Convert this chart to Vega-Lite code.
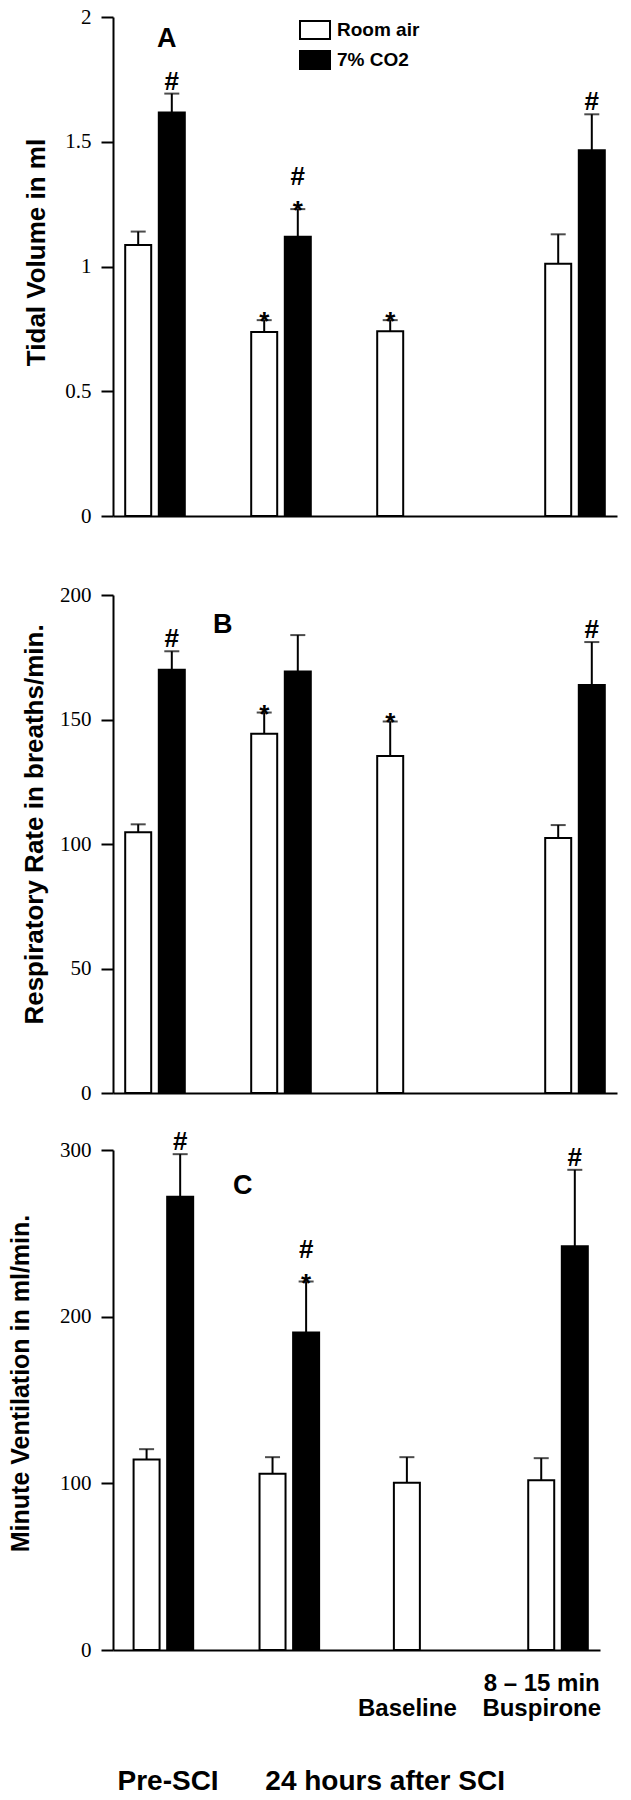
{
  "$schema": "https://vega.github.io/schema/vega-lite/v6.json",
  "padding": {"left": 8, "top": 6, "right": 5, "bottom": 0},
  "background": "white",
  "spacing": 26,
  "datasets": {
    "resp": [
      {"panel": "A", "slot": "Pre-SCI|Room air", "condition": "Room air", "mean": 1.086, "upper": 1.14, "star": "", "hash": "", "hashAbove": ""},
      {"panel": "A", "slot": "Pre-SCI|7% CO2", "condition": "7% CO2", "mean": 1.617, "upper": 1.693, "star": "", "hash": "#", "hashAbove": ""},
      {"panel": "A", "slot": "24 h|Room air", "condition": "Room air", "mean": 0.737, "upper": 0.785, "star": "*", "hash": "", "hashAbove": ""},
      {"panel": "A", "slot": "24 h|7% CO2", "condition": "7% CO2", "mean": 1.119, "upper": 1.23, "star": "*", "hash": "", "hashAbove": "#"},
      {"panel": "A", "slot": "Baseline|Room air", "condition": "Room air", "mean": 0.74, "upper": 0.785, "star": "*", "hash": "", "hashAbove": ""},
      {"panel": "A", "slot": "Buspirone|Room air", "condition": "Room air", "mean": 1.011, "upper": 1.129, "star": "", "hash": "", "hashAbove": ""},
      {"panel": "A", "slot": "Buspirone|7% CO2", "condition": "7% CO2", "mean": 1.466, "upper": 1.61, "star": "", "hash": "#", "hashAbove": ""},
      {"panel": "B", "slot": "Pre-SCI|Room air", "condition": "Room air", "mean": 104.7, "upper": 107.9, "star": "", "hash": "", "hashAbove": ""},
      {"panel": "B", "slot": "Pre-SCI|7% CO2", "condition": "7% CO2", "mean": 170, "upper": 177.4, "star": "", "hash": "#", "hashAbove": ""},
      {"panel": "B", "slot": "24 h|Room air", "condition": "Room air", "mean": 144.3, "upper": 152.8, "star": "*", "hash": "", "hashAbove": ""},
      {"panel": "B", "slot": "24 h|7% CO2", "condition": "7% CO2", "mean": 169.3, "upper": 183.9, "star": "", "hash": "", "hashAbove": ""},
      {"panel": "B", "slot": "Baseline|Room air", "condition": "Room air", "mean": 135.3, "upper": 149.2, "star": "*", "hash": "", "hashAbove": ""},
      {"panel": "B", "slot": "Buspirone|Room air", "condition": "Room air", "mean": 102.4, "upper": 107.6, "star": "", "hash": "", "hashAbove": ""},
      {"panel": "B", "slot": "Buspirone|7% CO2", "condition": "7% CO2", "mean": 163.9, "upper": 181.1, "star": "", "hash": "#", "hashAbove": ""},
      {"panel": "C", "slot": "Pre-SCI|Room air", "condition": "Room air", "mean": 114.3, "upper": 120.5, "star": "", "hash": "", "hashAbove": ""},
      {"panel": "C", "slot": "Pre-SCI|7% CO2", "condition": "7% CO2", "mean": 272, "upper": 297.5, "star": "", "hash": "#", "hashAbove": ""},
      {"panel": "C", "slot": "24 h|Room air", "condition": "Room air", "mean": 105.7, "upper": 115.7, "star": "", "hash": "", "hashAbove": ""},
      {"panel": "C", "slot": "24 h|7% CO2", "condition": "7% CO2", "mean": 190.5, "upper": 221.1, "star": "*", "hash": "", "hashAbove": "#"},
      {"panel": "C", "slot": "Baseline|Room air", "condition": "Room air", "mean": 100.3, "upper": 115.7, "star": "", "hash": "", "hashAbove": ""},
      {"panel": "C", "slot": "Buspirone|Room air", "condition": "Room air", "mean": 101.9, "upper": 115.1, "star": "", "hash": "", "hashAbove": ""},
      {"panel": "C", "slot": "Buspirone|7% CO2", "condition": "7% CO2", "mean": 242.2, "upper": 288.1, "star": "", "hash": "#", "hashAbove": ""}
    ]
  },
  "data": {"name": "resp"},
  "resolve": {"scale": {"x": "independent", "y": "independent", "fill": "independent"}, "legend": {"fill": "independent"}},
  "vconcat": [
    {
      "width": 504, "height": 499,
      "title": {"text": "A", "anchor": "start", "frame": "group", "orient": "top", "baseline": "alphabetic", "offset": -68, "dx": 44, "fontSize": 27, "font": "Liberation Sans", "fontWeight": "bold", "color": "black"},
      "transform": [{"filter": "datum.panel == 'A'"}],
      "encoding": {
        "x": {"field": "slot", "type": "nominal",
          "scale": {"type": "point", "padding": 0, "domain": ["_0","_1","_2","Pre-SCI|Room air","_4","_5","_6","Pre-SCI|7% CO2","_8","_9","_10","_11","_12","_13","_14","_15","_16","_17","24 h|Room air","_19","_20","_21","24 h|7% CO2","_23","_24","_25","_26","_27","_28","_29","_30","_31","_32","Baseline|Room air","_34","_35","_36","_37","_38","_39","_40","_41","_42","_43","_44","_45","_46","_47","_48","_49","_50","_51","_52","Buspirone|Room air","_54","_55","_56","Buspirone|7% CO2","_58","_59","_60"]},
          "axis": {"labels": false, "ticks": false, "title": null, "minExtent": 42}}
      },
      "layer": [
        {"mark": {"type": "bar", "width": 26, "stroke": "black", "strokeWidth": 2},
         "encoding": {
           "y": {"field": "mean", "type": "quantitative", "title": "Tidal Volume in ml", "scale": {"domain": [0, 2]},
                 "axis": {"values": [0, 0.5, 1, 1.5, 2], "format": "~g", "titlePadding": 15, "titleY": 235}},
           "fill": {"field": "condition", "type": "nominal", "scale": {"domain": ["Room air", "7% CO2"], "range": ["white", "black"]},
                    "legend": {"orient": "none", "legendX": 186, "legendY": -3, "title": null, "symbolType": "M-1,-0.6H1V0.6H-1Z", "symbolSize": 900, "symbolStrokeColor": "black", "symbolStrokeWidth": 2, "labelFont": "Liberation Sans", "labelFontWeight": "bold", "labelFontSize": 19, "labelColor": "black", "labelOffset": 6, "rowPadding": 1, "padding": 0, "labelExpr": "datum.label == '7% CO2' ? '\u00a07% CO2' : datum.label"}}
         }},
        {"mark": {"type": "rule", "strokeWidth": 2, "color": "black"},
         "encoding": {"y": {"field": "mean", "type": "quantitative", "title": "Tidal Volume in ml", "scale": {"domain": [0, 2]}}, "y2": {"field": "upper"}}},
        {"mark": {"type": "tick", "orient": "horizontal", "size": 15, "thickness": 2, "color": "black"},
         "encoding": {"y": {"field": "upper", "type": "quantitative", "title": "Tidal Volume in ml", "scale": {"domain": [0, 2]}}}},
        {"transform": [{"filter": "datum.star != ''"}],
         "mark": {"type": "text", "font": "Liberation Sans", "fontWeight": "bold", "fontSize": 26, "baseline": "alphabetic", "dy": 10, "color": "black"},
         "encoding": {"y": {"field": "upper", "type": "quantitative", "title": "Tidal Volume in ml", "scale": {"domain": [0, 2]}}, "text": {"field": "star"}}},
        {"transform": [{"filter": "datum.hash != ''"}],
         "mark": {"type": "text", "font": "Liberation Sans", "fontWeight": "bold", "fontSize": 26, "baseline": "alphabetic", "dy": -4, "color": "black"},
         "encoding": {"y": {"field": "upper", "type": "quantitative", "title": "Tidal Volume in ml", "scale": {"domain": [0, 2]}}, "text": {"field": "hash"}}},
        {"transform": [{"filter": "datum.hashAbove != ''"}],
         "mark": {"type": "text", "font": "Liberation Sans", "fontWeight": "bold", "fontSize": 26, "baseline": "alphabetic", "dy": -24, "color": "black"},
         "encoding": {"y": {"field": "upper", "type": "quantitative", "title": "Tidal Volume in ml", "scale": {"domain": [0, 2]}}, "text": {"field": "hashAbove"}}}
      ]
    },
    {
      "width": 504, "height": 498,
      "title": {"text": "B", "anchor": "start", "frame": "group", "orient": "top", "baseline": "alphabetic", "offset": -76, "dx": 100, "fontSize": 27, "font": "Liberation Sans", "fontWeight": "bold", "color": "black"},
      "transform": [{"filter": "datum.panel == 'B'"}],
      "encoding": {
        "x": {"field": "slot", "type": "nominal",
          "scale": {"type": "point", "padding": 0, "domain": ["_0","_1","_2","Pre-SCI|Room air","_4","_5","_6","Pre-SCI|7% CO2","_8","_9","_10","_11","_12","_13","_14","_15","_16","_17","24 h|Room air","_19","_20","_21","24 h|7% CO2","_23","_24","_25","_26","_27","_28","_29","_30","_31","_32","Baseline|Room air","_34","_35","_36","_37","_38","_39","_40","_41","_42","_43","_44","_45","_46","_47","_48","_49","_50","_51","_52","Buspirone|Room air","_54","_55","_56","Buspirone|7% CO2","_58","_59","_60"]},
          "axis": {"labels": false, "ticks": false, "title": null}}
      },
      "layer": [
        {"mark": {"type": "bar", "width": 26, "stroke": "black", "strokeWidth": 2},
         "encoding": {
           "y": {"field": "mean", "type": "quantitative", "title": "Respiratory Rate in breaths/min.", "scale": {"domain": [0, 200]},
                 "axis": {"values": [0, 50, 100, 150, 200], "titlePadding": 12, "titleY": 229}},
           "fill": {"field": "condition", "type": "nominal", "scale": {"domain": ["Room air", "7% CO2"], "range": ["white", "black"]}, "legend": null}
         }},
        {"mark": {"type": "rule", "strokeWidth": 2, "color": "black"},
         "encoding": {"y": {"field": "mean", "type": "quantitative", "title": "Respiratory Rate in breaths/min.", "scale": {"domain": [0, 200]}}, "y2": {"field": "upper"}}},
        {"mark": {"type": "tick", "orient": "horizontal", "size": 15, "thickness": 2, "color": "black"},
         "encoding": {"y": {"field": "upper", "type": "quantitative", "title": "Respiratory Rate in breaths/min.", "scale": {"domain": [0, 200]}}}},
        {"transform": [{"filter": "datum.star != ''"}],
         "mark": {"type": "text", "font": "Liberation Sans", "fontWeight": "bold", "fontSize": 26, "baseline": "alphabetic", "dy": 10, "color": "black"},
         "encoding": {"y": {"field": "upper", "type": "quantitative", "title": "Respiratory Rate in breaths/min.", "scale": {"domain": [0, 200]}}, "text": {"field": "star"}}},
        {"transform": [{"filter": "datum.hash != ''"}],
         "mark": {"type": "text", "font": "Liberation Sans", "fontWeight": "bold", "fontSize": 26, "baseline": "alphabetic", "dy": -4, "color": "black"},
         "encoding": {"y": {"field": "upper", "type": "quantitative", "title": "Respiratory Rate in breaths/min.", "scale": {"domain": [0, 200]}}, "text": {"field": "hash"}}}
      ]
    },
    {
      "width": 487, "height": 500,
      "title": {"text": "C", "anchor": "start", "frame": "group", "orient": "top", "baseline": "alphabetic", "offset": -92, "dx": 120, "fontSize": 27, "font": "Liberation Sans", "fontWeight": "bold", "color": "black"},
      "transform": [{"filter": "datum.panel == 'C'"}],
      "encoding": {
        "x": {"field": "slot", "type": "nominal",
          "scale": {"type": "point", "padding": 0, "domain": ["_0","_1","_2","_3","Pre-SCI|Room air","_5","_6","_7","Pre-SCI|7% CO2","_9","_10","_11","_12","_13","_14","_15","_16","_17","_18","24 h|Room air","_20","_21","_22","24 h|7% CO2","_24","_25","_26","_27","_28","_29","_30","_31","_32","_33","_34","Baseline|Room air","_36","_37","_38","_39","_40","_41","_42","_43","_44","_45","_46","_47","_48","_49","_50","Buspirone|Room air","_52","_53","_54","Buspirone|7% CO2","_56","_57","_58"]},
          "axis": {"ticks": false, "tickSize": 0, "labelAngle": 0, "labelAlign": "center", "labelBaseline": "top", "labelOverlap": false, "labelBound": false,
                   "labelFont": "Liberation Sans", "labelFontWeight": "bold", "labelFontSize": 24, "labelLineHeight": 25, "labelPadding": 21,
                   "labelExpr": "datum.value == 'Baseline|Room air' ? ['', 'Baseline'] : datum.value == 'Buspirone|Room air' ? ['8 \u2013 15 min', 'Buspirone'] : ''",
                   "title": "Pre-SCI\u00a0\u00a0\u00a0\u00a0\u00a0\u00a024 hours after SCI", "titleFontSize": 28, "titleX": 4, "titleY": 131, "titleAlign": "left", "titleAnchor": "start", "titleBaseline": "middle"}}
      },
      "layer": [
        {"mark": {"type": "bar", "width": 26, "stroke": "black", "strokeWidth": 2},
         "encoding": {
           "y": {"field": "mean", "type": "quantitative", "title": "Minute Ventilation in ml/min.", "scale": {"domain": [0, 300]},
                 "axis": {"values": [0, 100, 200, 300], "titlePadding": 26, "titleY": 233, "titleFontSize": 25}},
           "fill": {"field": "condition", "type": "nominal", "scale": {"domain": ["Room air", "7% CO2"], "range": ["white", "black"]}, "legend": null}
         }},
        {"mark": {"type": "rule", "strokeWidth": 2, "color": "black"},
         "encoding": {"y": {"field": "mean", "type": "quantitative", "title": "Minute Ventilation in ml/min.", "scale": {"domain": [0, 300]}}, "y2": {"field": "upper"}}},
        {"mark": {"type": "tick", "orient": "horizontal", "size": 15, "thickness": 2, "color": "black"},
         "encoding": {"y": {"field": "upper", "type": "quantitative", "title": "Minute Ventilation in ml/min.", "scale": {"domain": [0, 300]}}}},
        {"transform": [{"filter": "datum.star != ''"}],
         "mark": {"type": "text", "font": "Liberation Sans", "fontWeight": "bold", "fontSize": 26, "baseline": "alphabetic", "dy": 10, "color": "black"},
         "encoding": {"y": {"field": "upper", "type": "quantitative", "title": "Minute Ventilation in ml/min.", "scale": {"domain": [0, 300]}}, "text": {"field": "star"}}},
        {"transform": [{"filter": "datum.hash != ''"}],
         "mark": {"type": "text", "font": "Liberation Sans", "fontWeight": "bold", "fontSize": 26, "baseline": "alphabetic", "dy": -4, "color": "black"},
         "encoding": {"y": {"field": "upper", "type": "quantitative", "title": "Minute Ventilation in ml/min.", "scale": {"domain": [0, 300]}}, "text": {"field": "hash"}}},
        {"transform": [{"filter": "datum.hashAbove != ''"}],
         "mark": {"type": "text", "font": "Liberation Sans", "fontWeight": "bold", "fontSize": 26, "baseline": "alphabetic", "dy": -24, "color": "black"},
         "encoding": {"y": {"field": "upper", "type": "quantitative", "title": "Minute Ventilation in ml/min.", "scale": {"domain": [0, 300]}}, "text": {"field": "hashAbove"}}}
      ]
    }
  ],
  "config": {
    "view": {"stroke": null},
    "font": "Liberation Sans",
    "axis": {"grid": false, "domainColor": "black", "domainWidth": 2, "tickColor": "black", "tickWidth": 2, "tickSize": 12,
             "labelFont": "Liberation Serif", "labelFontSize": 21, "labelColor": "black", "labelPadding": 10, "labelFlush": false,
             "titleFont": "Liberation Sans", "titleFontWeight": "bold", "titleColor": "black", "titleFontSize": 26}
  }
}
